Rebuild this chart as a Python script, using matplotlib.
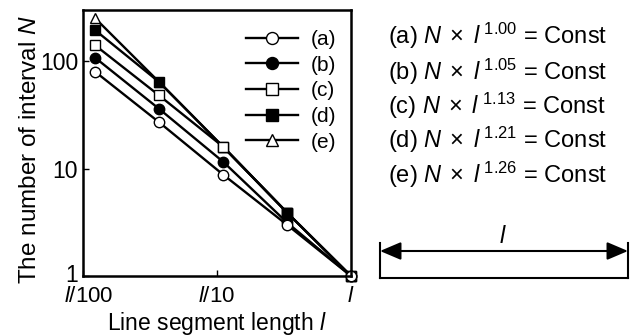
import matplotlib
matplotlib.use("Agg")
import matplotlib.pyplot as plt
from matplotlib.transforms import ScaledTranslation

plt.rcParams['font.family'] = ['Liberation Sans', 'DejaVu Sans']
plt.rcParams['mathtext.fontset'] = 'custom'
plt.rcParams['mathtext.rm'] = 'Liberation Sans'
plt.rcParams['mathtext.it'] = 'Liberation Sans:italic'

# segment length as a fraction of l
seg_len = [0.0123, 0.037, 0.111, 0.333, 1.0]

# number of intervals N
n_a = [80, 27, 8.8, 3.0, 1]
n_b = [108, 36, 11.6, 3.15, 1]
n_c = [141, 48, 16, 3.9, 1]
n_d = [195, 64, 16, 3.9, 1]
n_e = [252, 64, 16, 3.9, 1]

labels = ['(a)', '(b)', '(c)', '(d)', '(e)']
exponents = ['1.00', '1.05', '1.13', '1.21', '1.26']

W, H = 635, 336
fig = plt.figure(figsize=(6.35, 3.36), dpi=100)
ax = fig.add_axes([83 / W, 1 - 276 / H, 268 / W, 266 / H])

lw = 1.7
ms = 7.5
h = {}
h['e'], = ax.plot(seg_len, n_e, '-^', color='k', lw=lw, ms=ms, mfc='white', mec='k', mew=1, clip_on=False)
h['d'], = ax.plot(seg_len, n_d, '-s', color='k', lw=lw, ms=ms, mfc='k', mec='k', clip_on=False)
h['c'], = ax.plot(seg_len, n_c, '-s', color='k', lw=lw, ms=ms, mfc='white', mec='k', mew=1, clip_on=False)
# (d) marker sits on top at the fourth point
ax.plot(seg_len[3], n_d[3], 's', color='k', ms=ms, zorder=3)
h['b'], = ax.plot(seg_len, n_b, '-o', color='k', lw=lw, ms=ms, mfc='k', mec='k', clip_on=False)
h['a'], = ax.plot(seg_len, n_a, '-o', color='k', lw=lw, ms=ms, mfc='white', mec='k', mew=1, clip_on=False)

ax.set_xscale('log')
ax.set_yscale('log')
ax.set_xlim(0.01, 1.0)
ax.set_ylim(1, 300)
ax.set_xticks([0.01, 0.1, 1])
ax.set_xticklabels(['$l$/100', '$l$/10', '$l$'])
ax.set_yticks([1, 10, 100])
ax.set_yticklabels(['1', '10', '100'])
ax.minorticks_off()
ax.tick_params(direction='in', length=4, width=1, labelsize=16.5)
ax.tick_params(axis='x', pad=7.5, labelsize=16)
ax.tick_params(axis='y', pad=3.5)
for s in ax.spines.values():
    s.set_linewidth(1.8)
# first x label sits a little to the right of its tick
first = ax.get_xticklabels()[0]
first.set_transform(first.get_transform() + ScaledTranslation(6 / 100, 0, fig.dpi_scale_trans))
# the "1" on the y axis sits a little higher so it clears the x labels
one = ax.get_yticklabels()[0]
one.set_transform(one.get_transform() + ScaledTranslation(0, 3 / 100, fig.dpi_scale_trans))

ax.set_xlabel('Line segment length $l$', fontsize=16.5)
ax.xaxis.set_label_coords(0.5, -0.128)
ax.set_ylabel('The number of interval $N$', fontsize=17.5)
ax.yaxis.set_label_coords(-0.157, 0.474)

leg = ax.legend([h['a'], h['b'], h['c'], h['d'], h['e']], labels,
                loc='upper right', bbox_to_anchor=(1.0, 0.98), frameon=False,
                fontsize=15, handlelength=2.5, handletextpad=0.6,
                labelspacing=0.32, borderaxespad=0.3, markerscale=1.15)

# equations on the right
eq_y = [36, 72, 106, 140, 175]
for lab, ex, yy in zip(labels, exponents, eq_y):
    fig.text(388 / W, 1 - yy / H,
             lab + r' $N\;\times\;l^{\;' + ex + r'}$ = Const',
             fontsize=17, va='center', ha='left')

# length scale bar, drawn in pixel-like units
ax2 = fig.add_axes([378 / W, 1 - 285 / H, 252 / W, 60 / H])
ax2.set_xlim(378, 630)
ax2.set_ylim(285, 225)
ax2.axis('off')
ax2.annotate('', xy=(380, 251), xytext=(628, 251),
             arrowprops=dict(arrowstyle='<|-|>,head_length=0.4,head_width=0.17',
                             color='k', lw=1.5, mutation_scale=32,
                             shrinkA=0, shrinkB=0))
ax2.plot([380, 628], [278, 278], color='k', lw=1.5)
ax2.plot([380, 380], [243, 278], color='k', lw=1.5)
ax2.plot([628, 628], [243, 278], color='k', lw=1.5)
ax2.text(503, 237, '$l$', fontsize=17, ha='center', va='center')

fig.savefig('out.png', dpi=100)
